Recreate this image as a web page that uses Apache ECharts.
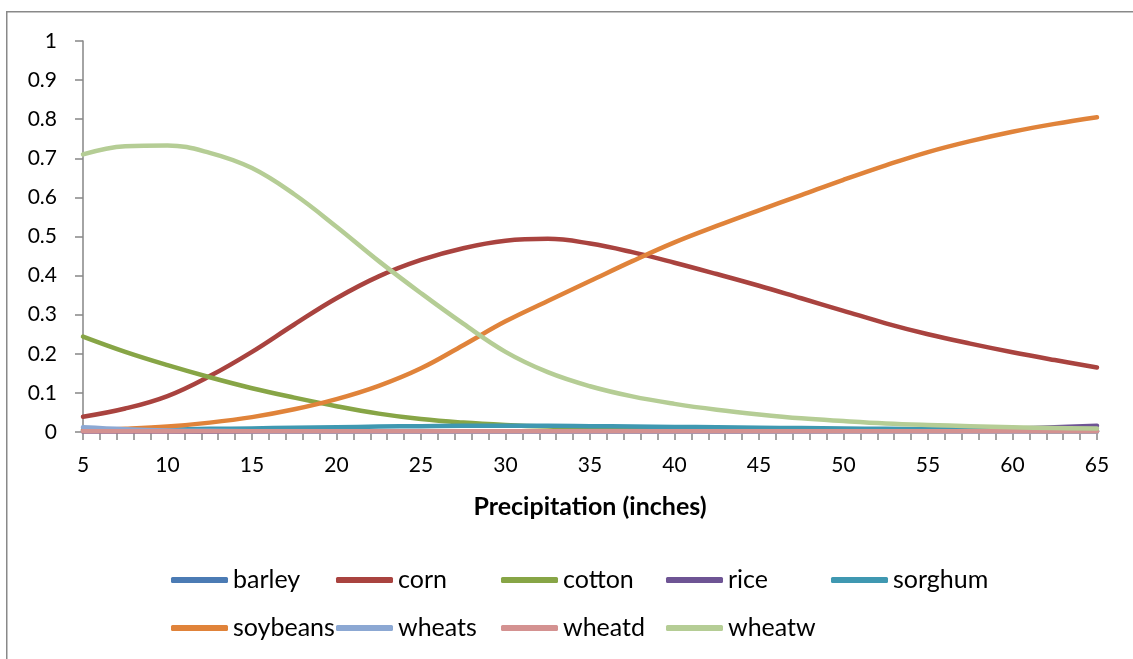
<!DOCTYPE html>
<html>
<head>
<meta charset="utf-8">
<title>Precipitation</title>
<script src="https://cdn.jsdelivr.net/npm/echarts@6/dist/echarts.min.js"></script>
<style>
  html, body { margin: 0; padding: 0; background: #fff; }
  #chart { width: 1133px; height: 659px; }
</style>
</head>
<body>
<div id="chart"></div>
<script>
// precipitation values (inches) shared by all series
var precip = [5, 7.5, 10, 12.5, 15, 17.5, 20, 22.5, 25, 27.5, 30, 32.5, 35, 37.5, 40, 42.5, 45, 47.5, 50, 52.5, 55, 57.5, 60, 62.5, 65];

var barley   = [0.006, 0.004, 0.003, 0.002, 0.002, 0.002, 0.002, 0.002, 0.002, 0.002, 0.002, 0.002, 0.002, 0.002, 0.002, 0.002, 0.002, 0.002, 0.002, 0.002, 0.002, 0.002, 0.002, 0.002, 0.002];
var corn     = [0.039, 0.060, 0.092, 0.143, 0.205, 0.275, 0.342, 0.398, 0.440, 0.470, 0.489, 0.494, 0.482, 0.460, 0.433, 0.404, 0.374, 0.342, 0.310, 0.278, 0.250, 0.226, 0.204, 0.184, 0.165];
var cotton   = [0.244, 0.205, 0.171, 0.140, 0.112, 0.088, 0.066, 0.047, 0.033, 0.024, 0.018, 0.014, 0.012, 0.010, 0.009, 0.008, 0.007, 0.006, 0.005, 0.004, 0.004, 0.003, 0.003, 0.002, 0.002];
var rice     = [0.001, 0.001, 0.001, 0.001, 0.001, 0.001, 0.001, 0.001, 0.001, 0.001, 0.001, 0.001, 0.001, 0.001, 0.001, 0.001, 0.002, 0.002, 0.003, 0.004, 0.005, 0.007, 0.009, 0.012, 0.016];
var sorghum  = [0.004, 0.005, 0.006, 0.008, 0.009, 0.011, 0.012, 0.014, 0.015, 0.016, 0.016, 0.016, 0.015, 0.014, 0.013, 0.012, 0.011, 0.010, 0.009, 0.008, 0.007, 0.006, 0.005, 0.005, 0.004];
var soybeans = [0.004, 0.008, 0.014, 0.024, 0.038, 0.058, 0.084, 0.118, 0.163, 0.222, 0.283, 0.335, 0.386, 0.437, 0.485, 0.527, 0.567, 0.606, 0.645, 0.682, 0.716, 0.744, 0.768, 0.788, 0.805];
var wheats   = [0.012, 0.007, 0.004, 0.003, 0.002, 0.001, 0.001, 0.001, 0.001, 0.001, 0.001, 0.001, 0.001, 0.001, 0.001, 0.001, 0.001, 0.001, 0.001, 0.001, 0.001, 0.001, 0.001, 0.001, 0.001];
var wheatd   = [0.002, 0.002, 0.002, 0.002, 0.002, 0.002, 0.002, 0.002, 0.002, 0.002, 0.002, 0.002, 0.002, 0.002, 0.002, 0.002, 0.002, 0.002, 0.002, 0.002, 0.002, 0.002, 0.002, 0.002, 0.002];
var wheatw   = [0.710, 0.731, 0.733, 0.714, 0.675, 0.608, 0.525, 0.437, 0.355, 0.277, 0.205, 0.153, 0.117, 0.091, 0.072, 0.057, 0.045, 0.035, 0.028, 0.022, 0.018, 0.015, 0.012, 0.010, 0.009];

var names  = ['barley', 'corn', 'cotton', 'rice', 'sorghum', 'soybeans', 'wheats', 'wheatd', 'wheatw'];
var values = [barley, corn, cotton, rice, sorghum, soybeans, wheats, wheatd, wheatw];
var colors = ['#4B7BB4', '#A9433F', '#87A546', '#6E5494', '#3F98B1', '#E0833A', '#8CA8D3', '#D49291', '#B5CD95'];

var font = 'Lato, "Open Sans", sans-serif';
var axisGray = '#868686';

var series = names.map(function (n, i) {
  return {
    name: n,
    type: 'line',
    smooth: 0.4,
    showSymbol: false,
    symbol: 'none',
    lineStyle: { width: 4.5, color: colors[i], cap: 'round', join: 'round' },
    itemStyle: { color: colors[i] },
    data: precip.map(function (p, k) { return [p, values[i][k]]; })
  };
});

// legend laid out in fixed columns, two rows
var legendBase = {
  orient: 'horizontal',
  left: 166,
  itemWidth: 57,
  itemHeight: 6,
  itemGap: 0,
  icon: 'roundRect',
  textStyle: { fontFamily: font, fontSize: 25, lineHeight: 28, color: '#000', width: 103, overflow: 'none' }
};

var chart = echarts.init(document.getElementById('chart'));
chart.setOption({
  animation: false,
  color: colors,
  textStyle: { fontFamily: font },
  graphic: [{
    type: 'rect',
    shape: { x: 6.75, y: 11.75, width: 1200, height: 700 },
    style: { fill: 'none', stroke: '#898989', lineWidth: 1.5 },
    silent: true
  }],
  grid: { left: 83, right: 36, top: 41, bottom: 227 },
  legend: [
    Object.assign({}, legendBase, { top: 561, data: names.slice(0, 5) }),
    Object.assign({}, legendBase, { top: 609, data: names.slice(5) })
  ],
  xAxis: {
    type: 'value',
    min: 5,
    max: 65,
    interval: 5,
    name: 'Precipitation (inches)',
    nameLocation: 'middle',
    nameGap: 62,
    nameTextStyle: { fontFamily: font, fontSize: 25, fontWeight: 'bold', color: '#000' },
    axisLine: { lineStyle: { color: axisGray, width: 1.5 } },
    axisTick: { show: true, length: 8, inside: false, lineStyle: { color: axisGray, width: 1.5 } },
    minorTick: { show: true, splitNumber: 5, length: 8, lineStyle: { color: axisGray, width: 1.5 } },
    axisLabel: { fontFamily: font, fontSize: 21, color: '#000', margin: 23 },
    splitLine: { show: false }
  },
  yAxis: {
    type: 'value',
    min: 0,
    max: 1,
    interval: 0.1,
    axisLine: { show: true, lineStyle: { color: axisGray, width: 1.5 } },
    axisTick: { show: true, length: 8, lineStyle: { color: axisGray, width: 1.5 } },
    axisLabel: { fontFamily: font, fontSize: 21, color: '#000', margin: 26 },
    splitLine: { show: false }
  },
  series: series
});
</script>
</body>
</html>
